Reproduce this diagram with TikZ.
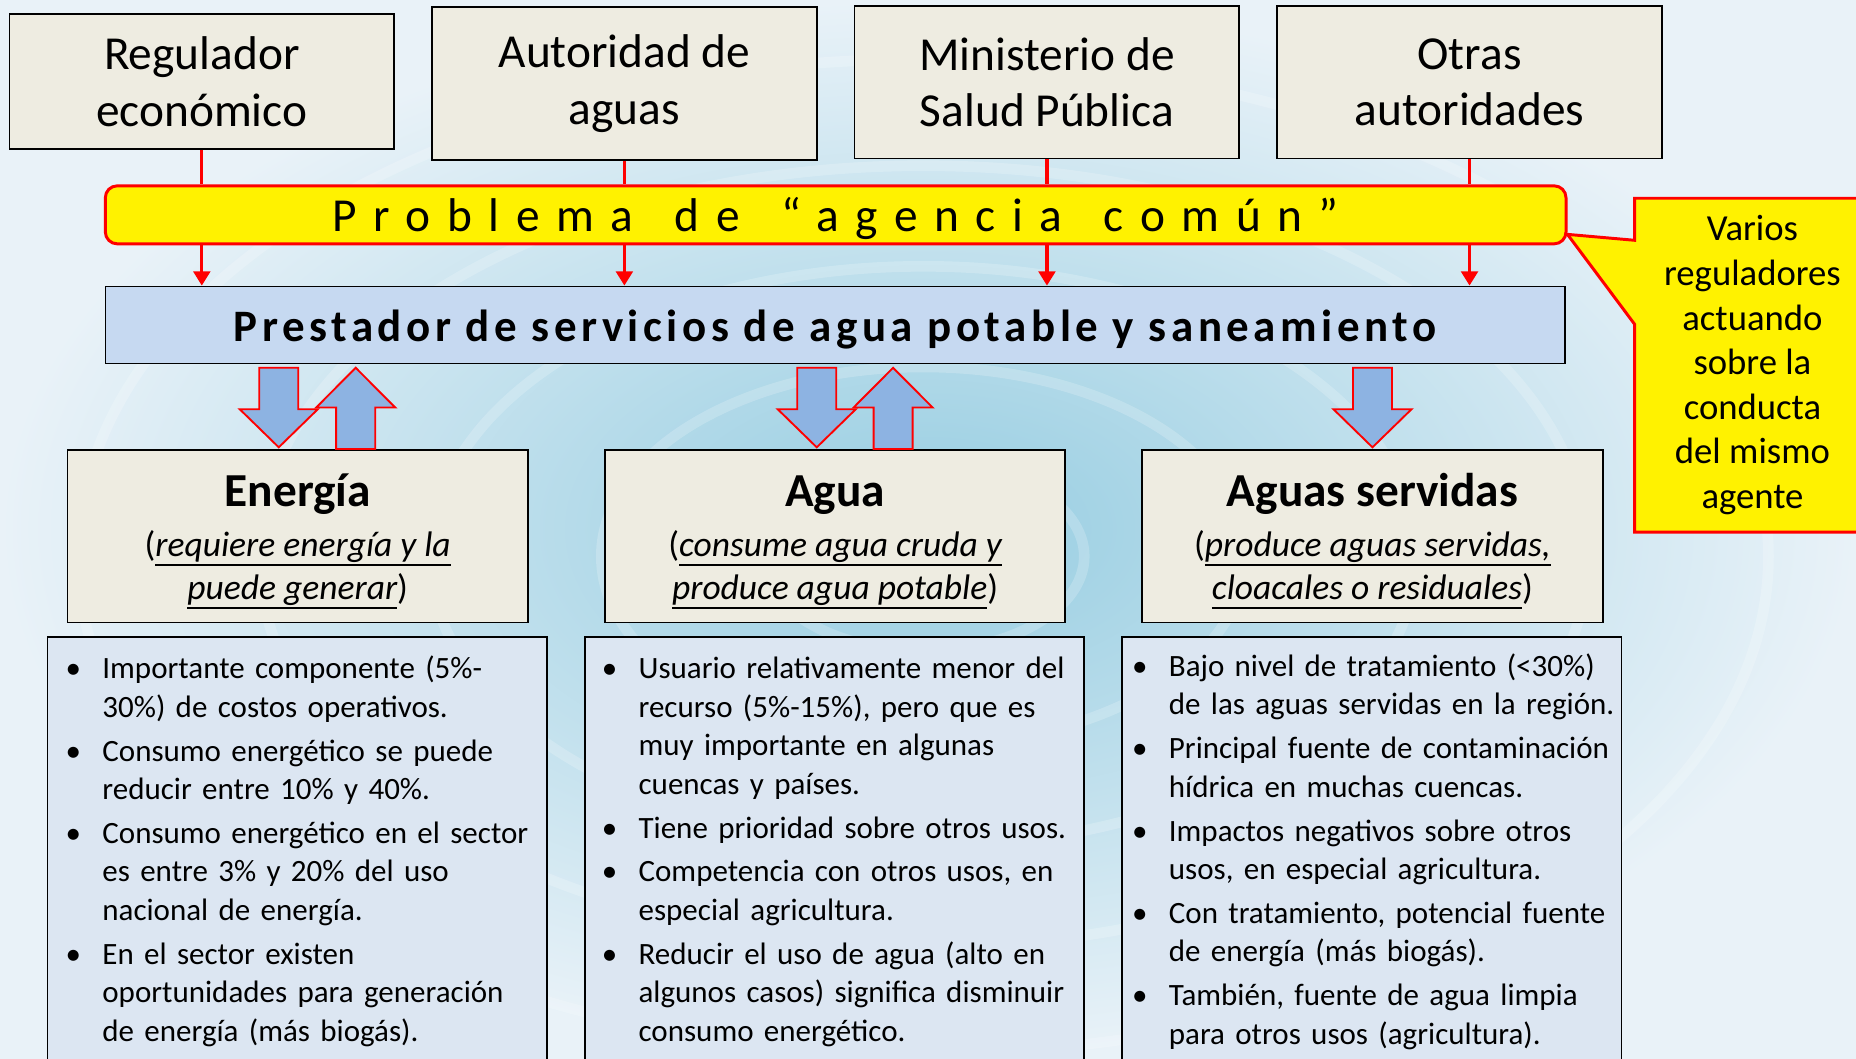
\documentclass[tikz,border=0pt]{standalone}
\usepackage{fontspec}
\setmainfont{Carlito}
\newfontfamily\barfont[LetterSpace=35]{Carlito}
\newfontfamily\prestfont[LetterSpace=10]{Carlito}
\usetikzlibrary{positioning,calc,arrows.meta,shapes.callouts}

\definecolor{beige}{HTML}{EEECE1}
\definecolor{prestblue}{HTML}{C6D9F1}
\definecolor{listblue}{HTML}{DCE6F2}
\definecolor{arrowblue}{HTML}{8DB3E2}
\definecolor{waterin}{HTML}{96CDE1}
\definecolor{waterout}{HTML}{E9F2F8}

\newenvironment{puntos}{\begin{list}{\textbullet}{%
  \setlength{\leftmargin}{31pt}\setlength{\labelwidth}{31pt}%
  \setlength{\labelsep}{0pt}\setlength{\itemindent}{0pt}%
  \setlength{\itemsep}{4.5pt}\setlength{\parsep}{0pt}%
  \setlength{\topsep}{0pt}\setlength{\partopsep}{0pt}%
  \renewcommand{\makelabel}[1]{\rule{0pt}{24pt}##1\hfil}}\raggedright}
  {\end{list}}
\newcommand{\subrayado}[1]{\setbox0\hbox{\itshape #1}%
  \rlap{\rule[-8pt]{\wd0}{1.8pt}}\box0}

\begin{document}
\begin{tikzpicture}[x=1pt, y=-1pt,
  autbox/.style = {draw, line width=1.4pt, fill=beige, align=center,
    minimum width=325pt, font=\fontsize{40}{48}\selectfont},
  barbox/.style = {draw=red, line width=2.5pt, fill=yellow, rounded corners=10pt,
    minimum width=1234pt, minimum height=49pt, inner sep=0pt,
    text height=27.8pt, text depth=0pt, font=\fontsize{40}{48}\barfont},
  prestbox/.style = {draw, line width=1.4pt, fill=prestblue,
    minimum width=1233pt, minimum height=65pt, inner sep=0pt,
    text height=28pt, text depth=0pt, font=\fontsize{38}{46}\prestfont\bfseries},
  secbox/.style = {draw, line width=1.4pt, fill=beige,
    minimum width=389pt, minimum height=146pt},
  sectitle/.style = {anchor=base, inner sep=0pt,
    font=\fontsize{40}{48}\selectfont\bfseries},
  secsub/.style = {anchor=base, inner sep=0pt, font=\fontsize{30}{37}\selectfont},
  listbox/.style = {draw, line width=1.4pt, fill=listblue,
    minimum width=422pt, minimum height=372pt},
  listtext/.style = {anchor=north west, inner sep=0pt, text width=420pt,
    font=\fontsize{26.2}{32.5}\selectfont},
  redline/.style = {draw=red, line width=2.8pt},
  redarrow/.style = {redline, -{Triangle[length=12pt,width=14pt]}},
  fatdown/.style = {draw=red, line width=1.6pt, fill=arrowblue,
    to path={let \p1=(\tikztostart), \p2=($(\tikztotarget)+(#1,0)$) in
      (\x2-16.5pt,\y1-3pt) -- (\x2+16.5pt,\y1-3pt) -- (\x2+16.5pt,\y2+33.6pt)
      -- (\x2+33pt,\y2+33.6pt) -- (\x2,\y2+1.4pt) -- (\x2-33pt,\y2+33.6pt)
      -- (\x2-16.5pt,\y2+33.6pt) -- cycle}},
  fatup/.style = {draw=red, line width=1.6pt, fill=arrowblue,
    to path={let \p1=(\tikztostart), \p2=($(\tikztotarget)+(#1,0)$) in
      (\x2,\y1-3pt) -- (\x2+33.4pt,\y1-36.6pt) -- (\x2+16.5pt,\y1-36.6pt)
      -- (\x2+16.5pt,\y2) -- (\x2-16.5pt,\y2) -- (\x2-16.5pt,\y1-36.6pt)
      -- (\x2-33.4pt,\y1-36.6pt) -- cycle}},
  notebox/.style = {rectangle callout, draw=red, line width=2.5pt, fill=yellow,
    minimum width=199pt, minimum height=282pt, align=center, inner sep=0pt,
    callout pointer width=71pt, font=\fontsize{31}{37.7}\selectfont}
  ]
  \clip (0,0) rectangle (1568,894);
  % fondo de agua
  \fill[inner color=waterin, outer color=waterout] (0,0) rectangle (1568,894);
  \foreach \r in {80,160,245,330,420}
    \draw[white, opacity=0.2, line width=9pt] (780,470) ellipse ({1.7*\r} and {\r});

  % autoridades
  \node[autbox, minimum height=114pt] (reg) at (170.5,69) {Regulador\\económico};
  \node[autbox, minimum height=129pt] (aut) at (527.5,70.5) {Autoridad de\\aguas};
  \node[autbox, minimum height=129pt] (min) at (884.5,69.5) {Ministerio de\\Salud Pública};
  \node[autbox, minimum height=129pt] (otr) at (1241.5,69.5) {Otras\\autoridades};

  \node[barbox] (bar) at (706,181.5)
    {Problema\hspace{35pt}de\hspace{35pt}“agencia\hspace{35pt}común”\hspace{26pt}};
  \node[prestbox] (prest) at (705.5,274.5)
    {Prestador de servicios de agua potable y saneamiento};

  \foreach \a in {reg,aut,min,otr}{
    \draw[redline] (\a.south) -- (\a.south |- bar.north);
    \draw[redarrow] (\a.south |- bar.south) -- (\a.south |- prest.north);
  }

  % sectores
  \node[secbox] (ene) at (251.5,453) {};
  \node[sectitle] (enet) at ($(ene.north)+(0,49)$) {Energía};
  \node[secsub] (enes1) at ($(ene.north)+(0,90.6)$) {(\subrayado{requiere energía y la}};
  \node[secsub] (enes2) at ($(ene.north)+(0,127.5)$) {\subrayado{puede generar})};

  \node[secbox] (agu) at (705.5,453) {};
  \node[sectitle] (agut) at ($(agu.north)+(0,49)$) {Agua};
  \node[secsub] (agus1) at ($(agu.north)+(0,90.6)$) {(\subrayado{consume agua cruda y}};
  \node[secsub] (agus2) at ($(agu.north)+(0,127.5)$) {\subrayado{produce agua potable})};

  \node[secbox] (ser) at (1159.5,453) {};
  \node[sectitle] (sert) at ($(ser.north)+(0,49)$) {Aguas servidas};
  \node[secsub] (sers1) at ($(ser.north)+(0,90.6)$) {(\subrayado{produce aguas servidas,}};
  \node[secsub] (sers2) at ($(ser.north)+(0,127.5)$) {\subrayado{cloacales o residuales})};

  \draw[fatdown=-16] (prest.south) to (ene.north);
  \draw[fatup=49] (prest.south) to (ene.north);
  \draw[fatdown=-15.5] (prest.south) to (agu.north);
  \draw[fatup=49] (prest.south) to (agu.north);
  \draw[fatdown=0] (prest.south) to (ser.north);

  % listas
  \node[listbox] (enel) at (251,724) {};
  \node[listtext] (enex) at ($(enel.north west)+(16,3.5)$) {\begin{puntos}
    \item Importante componente (5\%-\\30\%) de costos operativos.
    \item Consumo energético se puede\\reducir entre 10\% y 40\%.
    \item Consumo energético en el sector\\es entre 3\% y 20\% del uso\\nacional de energía.
    \item En el sector existen\\oportunidades para generación\\de energía (más biogás).
    \end{puntos}};

  \node[listbox] (agul) at (705,724) {};
  \node[listtext] (agux) at ($(agul.north west)+(15,3.5)$) {\begin{puntos}
    \item Usuario relativamente menor del\\recurso (5\%-15\%), pero que es\\muy importante en algunas\\cuencas y países.
    \item Tiene prioridad sobre otros usos.
    \item Competencia con otros usos, en\\especial agricultura.
    \item Reducir el uso de agua (alto en\\algunos casos) significa disminuir\\consumo energético.
    \end{puntos}};

  \node[listbox] (serl) at (1159,724) {};
  \node[listtext] (serx) at ($(serl.north west)+(9,1.5)$) {\begin{puntos}
    \item Bajo nivel de tratamiento (<30\%)\\de las aguas servidas en la región.
    \item Principal fuente de contaminación\\hídrica en muchas cuencas.
    \item Impactos negativos sobre otros\\usos, en especial agricultura.
    \item Con tratamiento, potencial fuente\\de energía (más biogás).
    \item También, fuente de agua limpia\\para otros usos (agricultura).
    \end{puntos}};

  % nota
  \node[notebox, callout absolute pointer={([yshift=-16.5pt]bar.east)}] (nota)
    at (1480.5,308.5) {Varios\\reguladores\\actuando\\sobre la\\conducta\\del mismo\\agente};
\end{tikzpicture}
\end{document}
